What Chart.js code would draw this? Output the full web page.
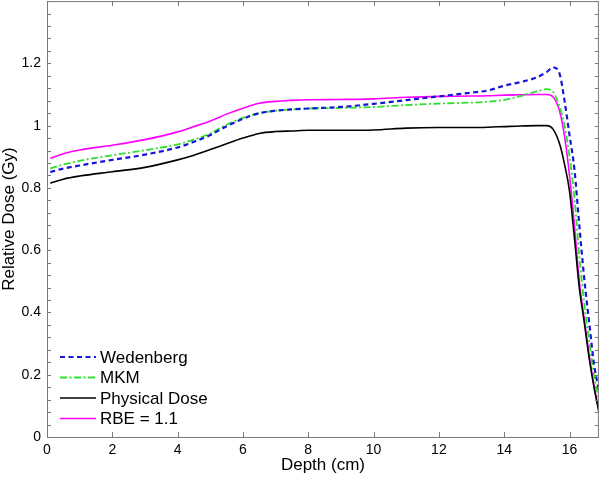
<!DOCTYPE html>
<html>
<head>
<meta charset="utf-8">
<script src="https://cdn.jsdelivr.net/npm/chart.js@4"></script>
<style>
  html, body { margin: 0; padding: 0; background: #fff; }
  #wrap { width: 600px; height: 477px; }
</style>
</head>
<body>
<div id="wrap"><canvas id="myChart" width="600" height="477"></canvas></div>
<script>
// depth in cm, dose values
const depth = [0.1, 0.5, 1, 2, 3, 4, 4.5, 5, 5.5, 6, 6.5, 7, 7.5, 8, 9, 10, 11, 12, 13, 13.5, 14, 14.5, 15, 15.3, 15.5, 15.7, 15.85, 16.0, 16.15, 16.3, 16.45, 16.6, 16.75, 16.9];

const wedenberg = [0.851, 0.862, 0.872, 0.89, 0.907, 0.93, 0.948, 0.97, 0.998, 1.022, 1.04, 1.048, 1.052, 1.055, 1.06, 1.07, 1.082, 1.094, 1.106, 1.113, 1.128, 1.14, 1.155, 1.172, 1.187, 1.165, 1.078, 0.97, 0.86, 0.68, 0.51, 0.37, 0.235, 0.15];
const mkm       = [0.862, 0.875, 0.887, 0.905, 0.921, 0.94, 0.955, 0.975, 1.003, 1.025, 1.04, 1.048, 1.052, 1.055, 1.057, 1.06, 1.066, 1.071, 1.074, 1.077, 1.083, 1.095, 1.11, 1.117, 1.108, 1.06, 1.0, 0.9, 0.77, 0.58, 0.43, 0.31, 0.2, 0.12];
const physical  = [0.815, 0.828, 0.838, 0.852, 0.866, 0.89, 0.905, 0.923, 0.942, 0.96, 0.975, 0.981, 0.983, 0.985, 0.985, 0.986, 0.992, 0.994, 0.994, 0.995, 0.997, 0.999, 1.0, 1.0, 0.988, 0.94, 0.875, 0.79, 0.64, 0.48, 0.37, 0.255, 0.16, 0.08];
const rbe11     = [0.895, 0.91, 0.922, 0.937, 0.955, 0.98, 0.997, 1.015, 1.037, 1.056, 1.072, 1.078, 1.081, 1.083, 1.084, 1.086, 1.091, 1.094, 1.095, 1.096, 1.098, 1.099, 1.1, 1.1, 1.092, 1.045, 0.965, 0.84, 0.68, 0.5, 0.38, 0.265, 0.165, 0.085];

const seriesNames = ['Wedenberg', 'MKM', 'Physical Dose', 'RBE = 1.1'];
const xTicks = [0, 2, 4, 6, 8, 10, 12, 14, 16];
const yTicks = [0, 0.2, 0.4, 0.6, 0.8, 1, 1.2];

const FONT = '"Liberation Sans", Arial, sans-serif';

function pts(vals) {
  return vals.map((v, i) => ({ x: depth[i], y: v }));
}

// axis box with inward ticks, plus legend in lower left
const framePlugin = {
  id: 'frame',
  afterDraw(chart) {
    const ctx = chart.ctx;
    const a = chart.chartArea;
    const xs = chart.scales.x, ys = chart.scales.y;
    ctx.save();
    ctx.strokeStyle = '#7a7a7a';
    ctx.lineWidth = 1;
    ctx.beginPath();
    ctx.rect(a.left + 0.5, a.top + 0.5, a.right - a.left - 1, a.bottom - a.top);
    ctx.stroke();
    ctx.beginPath();
    xTicks.forEach(t => {
      const px = Math.round(xs.getPixelForValue(t)) + 0.5;
      ctx.moveTo(px, a.bottom); ctx.lineTo(px, a.bottom - 5);
      ctx.moveTo(px, a.top); ctx.lineTo(px, a.top + 5);
    });
    for (let k = 0; k <= 35; k++) {
      const py = Math.round(ys.getPixelForValue(k * 0.04)) + 0.5;
      ctx.moveTo(a.left, py); ctx.lineTo(a.left + 4, py);
      ctx.moveTo(a.right, py); ctx.lineTo(a.right - 4, py);
    }
    ctx.stroke();

    // legend
    ctx.font = '17px ' + FONT;
    ctx.textBaseline = 'middle';
    ctx.fillStyle = '#000';
    chart.data.datasets.forEach((ds, i) => {
      const y = 357 + i * 20.5;
      ctx.beginPath();
      ctx.strokeStyle = ds.borderColor;
      ctx.lineWidth = ds.borderWidth;
      ctx.setLineDash(ds.borderDash || []);
      ctx.moveTo(60, y); ctx.lineTo(96, y);
      ctx.stroke();
      ctx.setLineDash([]);
      ctx.fillText(ds.label, 100, y + 1);
    });
    ctx.restore();
  }
};

const ctx = document.getElementById('myChart').getContext('2d');
const chart = new Chart(ctx, {
  type: 'line',
  data: {
    datasets: [
      { label: seriesNames[0], data: pts(wedenberg), borderColor: '#1616d8', borderWidth: 2.2, borderDash: [5, 3.5] },
      { label: seriesNames[1], data: pts(mkm), borderColor: '#2fe02f', borderWidth: 1.8, borderDash: [7, 2.5, 2, 2.5] },
      { label: seriesNames[2], data: pts(physical), borderColor: '#000000', borderWidth: 1.6 },
      { label: seriesNames[3], data: pts(rbe11), borderColor: '#ff00ff', borderWidth: 1.6 }
    ].reverse()
  },
  options: {
    responsive: false,
    animation: false,
    events: [],
    layout: { padding: { top: 1, right: 0, left: 0, bottom: 0 } },
    elements: {
      point: { radius: 0 },
      line: { cubicInterpolationMode: 'monotone', fill: false }
    },
    plugins: {
      legend: { display: false },
      tooltip: { enabled: false }
    },
    scales: {
      x: {
        type: 'linear',
        min: 0,
        max: 16.9,
        grid: { display: false, drawTicks: false },
        border: { display: false },
        afterBuildTicks: s => { s.ticks = xTicks.map(v => ({ value: v })); },
        afterFit: s => { s.height = 40; s.paddingLeft = 0; s.paddingRight = 0; },
        ticks: { color: '#000', padding: 5, maxRotation: 0, font: { family: FONT, size: 14 } },
        title: { display: true, text: 'Depth (cm)', color: '#000', padding: { top: 0, bottom: 1 }, font: { family: FONT, size: 17, lineHeight: 1.2 } }
      },
      y: {
        min: 0,
        max: 1.4,
        grid: { display: false, drawTicks: false },
        border: { display: false },
        afterBuildTicks: s => { s.ticks = yTicks.map(v => ({ value: v })); },
        afterFit: s => { s.width = 47; s.paddingTop = 0; s.paddingBottom = 0; },
        ticks: { color: '#000', padding: 6, font: { family: FONT, size: 14 }, callback: v => String(Math.round(v * 10) / 10) },
        title: { display: true, text: 'Relative Dose (Gy)', color: '#000', padding: { top: 0, bottom: 0 }, font: { family: FONT, size: 17, lineHeight: 1.1 } }
      }
    }
  },
  plugins: [framePlugin]
});
// legend order follows reference, datasets drawn reversed so blue is on top
chart.data.datasets.reverse();
chart.update();
</script>
</body>
</html>
